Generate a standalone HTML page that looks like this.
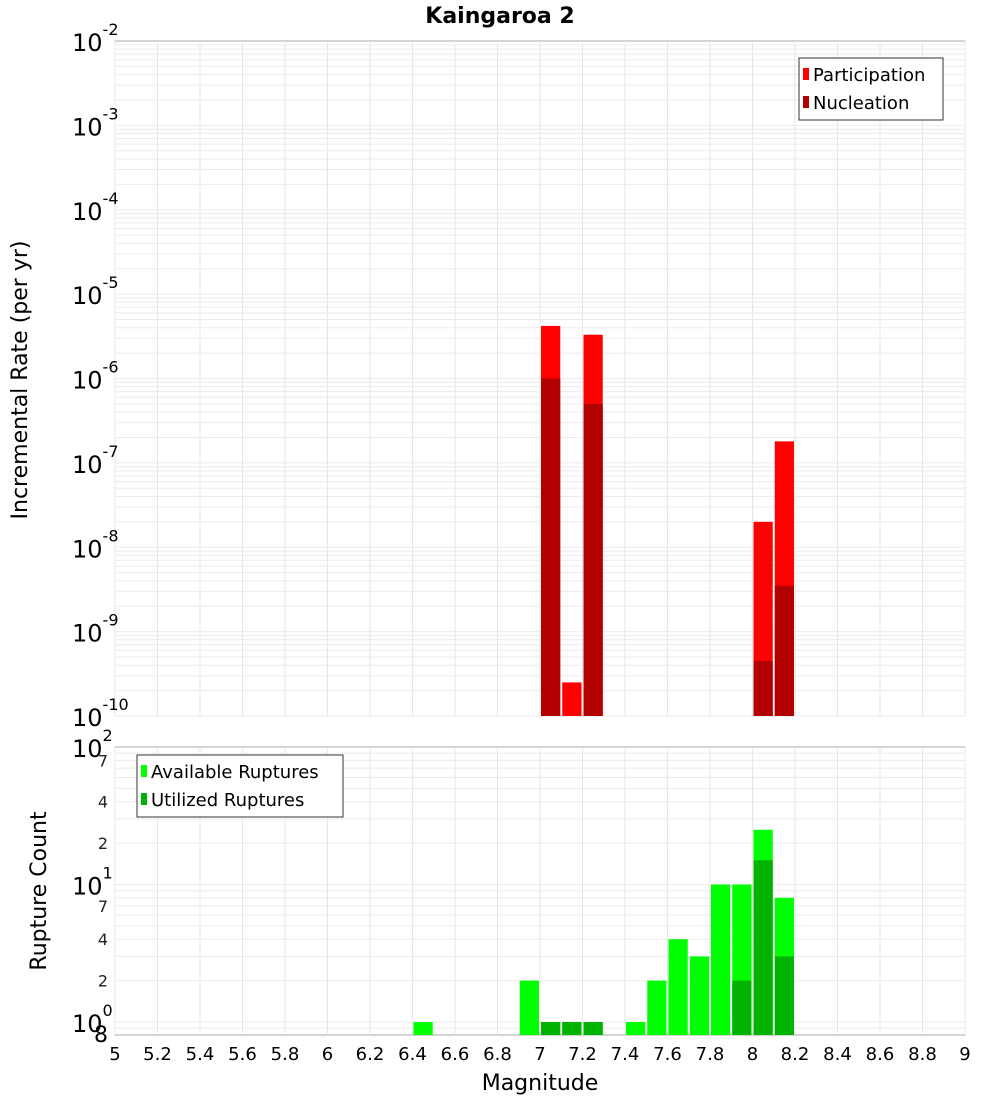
<!DOCTYPE html>
<html><head><meta charset="utf-8"><style>
body{margin:0;background:#fff;}
svg{font-family:"DejaVu Sans","Liberation Sans",sans-serif;}
</style></head><body>
<svg id="c" width="1000" height="1100" xmlns="http://www.w3.org/2000/svg"></svg>
<script>
const partMags=[7.05,7.15,7.25,8.05,8.15];
const partVals=[4.2e-6,2.5e-10,3.3e-6,2e-8,1.8e-7];
const nuclMags=[7.05,7.25,8.05,8.15];
const nuclVals=[1e-6,5e-7,4.5e-10,3.5e-9];
const availMags=[6.45,6.95,7.05,7.15,7.25,7.45,7.55,7.65,7.75,7.85,7.95,8.05,8.15];
const availVals=[1,2,1,1,1,1,2,4,3,10,10,25,8];
const utilMags=[7.05,7.15,7.25,7.95,8.05,8.15];
const utilVals=[1,1,1,2,15,3];
const xTicks=[5,5.2,5.4,5.6,5.8,6,6.2,6.4,6.6,6.8,7,7.2,7.4,7.6,7.8,8,8.2,8.4,8.6,8.8,9];
const topExps=[-10,-9,-8,-7,-6,-5,-4,-3,-2];
const botMinor=[{v:80,t:"7"},{v:40,t:"4"},{v:20,t:"2"},{v:7,t:"7"},{v:4,t:"4"},{v:2,t:"2"}];

const S=document.getElementById('c'),NS="http://www.w3.org/2000/svg";
function el(t,a,p){const e=document.createElementNS(NS,t);for(const k in a)e.setAttribute(k,a[k]);(p||S).appendChild(e);return e;}
const X0=115,X1=965;
const x=m=>X0+(m-5)/4*(X1-X0);
const T0=41,T1=716;
const yT=v=>T1-(Math.log10(v)+10)/8*(T1-T0);
const B0=747,B1=1035;
const yB=v=>1022-Math.log10(v)*137.5;

// frames
el('rect',{x:X0,y:T0,width:X1-X0,height:T1-T0,fill:'#fff',stroke:'#aaa'});
el('rect',{x:X0,y:B0,width:X1-X0,height:B1-B0,fill:'#fff',stroke:'#aaa'});
// grids
for(const m of xTicks){
 const g1=el('line',{x1:x(m),x2:x(m),y1:T0,y2:T1,stroke:'#e6e6e6'});
 const g2=el('line',{x1:x(m),x2:x(m),y1:B0,y2:B1,stroke:'#e6e6e6'});
}
for(let e=-10;e<-2;e++)for(let k=1;k<10;k++){const y=yT(k*Math.pow(10,e));
 const l=el('line',{x1:X0,x2:X1,y1:y,y2:y,stroke:'#ebebeb'});}
for(let e=-1;e<2;e++)for(let k=1;k<10;k++){const y=yB(k*Math.pow(10,e));if(y>B1||y<B0)continue;
 const l=el('line',{x1:X0,x2:X1,y1:y,y2:y,stroke:'#ebebeb'});}
// bars
function bar(m,v,yf,base,fill,name){const y=yf(v);const r=el('rect',{x:x(m-0.05)+1,y:y,width:x(m+0.05)-x(m-0.05)-2,height:base-y,fill:fill});
 }
partMags.forEach((m,i)=>bar(m,partVals[i],yT,T1,'#ff0000','participation-bar'));
nuclMags.forEach((m,i)=>bar(m,nuclVals[i],yT,T1,'#b30000','nucleation-bar'));
availMags.forEach((m,i)=>bar(m,availVals[i],yB,B1,'#00ff00','available-bar'));
utilMags.forEach((m,i)=>bar(m,utilVals[i],yB,B1,'#00b300','utilized-bar'));
// x labels
for(const m of xTicks){const t=el('text',{x:x(m),y:1060,'font-size':18,'text-anchor':'middle'});t.textContent=String(m);
 }
// top y labels
for(const e of topExps){const y=yT(Math.pow(10,e));const t=el('text',{x:72,y:y+10,'font-size':24});
 
 t.appendChild(document.createTextNode('10'));const s=el('tspan',{'font-size':16,dy:-16},t);s.textContent=String(e);}
// bottom y labels
[[100,'2'],[10,'1'],[1,'0']].forEach(([v,e])=>{const y=yB(v);const t=el('text',{x:72,y:y+10,'font-size':24});
 
 t.appendChild(document.createTextNode('10'));const s=el('tspan',{'font-size':16,dy:-16},t);s.textContent=e;});
for(const o of botMinor){const t=el('text',{x:108,y:yB(o.v)+6,'font-size':16,'text-anchor':'end',fill:'#222'});t.textContent=o.t;
 }
{const t=el('text',{x:108,y:1042,'font-size':22,'text-anchor':'end'});t.textContent='8';}
// titles
{const t=el('text',{x:500,y:23,'font-size':22,'font-weight':'bold','text-anchor':'middle'});t.textContent='Kaingaroa 2';}
{const t=el('text',{x:540,y:1090,'font-size':22,'text-anchor':'middle'});t.textContent='Magnitude';}
{const t=el('text',{x:0,y:0,'font-size':22,'text-anchor':'middle',transform:'translate(27,380) rotate(-90)'});t.textContent='Incremental Rate (per yr)';}
{const t=el('text',{x:0,y:0,'font-size':22,'text-anchor':'middle',transform:'translate(46,891) rotate(-90)'});t.textContent='Rupture Count';}
// legends
function legend(lx,ly,w,items,name){const g=el('g',{});
 el('rect',{x:lx,y:ly,width:w,height:items.length*28+6,fill:'#fff',stroke:'#333'},g);
 items.forEach(([c,l],i)=>{el('rect',{x:lx+4,y:ly+10+i*28,width:6,height:12,fill:c},g);
  const t=el('text',{x:lx+14,y:ly+23+i*28,'font-size':18},g);t.textContent=l;});}
legend(799,58,144,[['#ff0000','Participation'],['#b30000','Nucleation']],'top-legend');
legend(137,755,206,[['#00ff00','Available Ruptures'],['#00b300','Utilized Ruptures']],'bottom-legend');
</script>
</body></html>
